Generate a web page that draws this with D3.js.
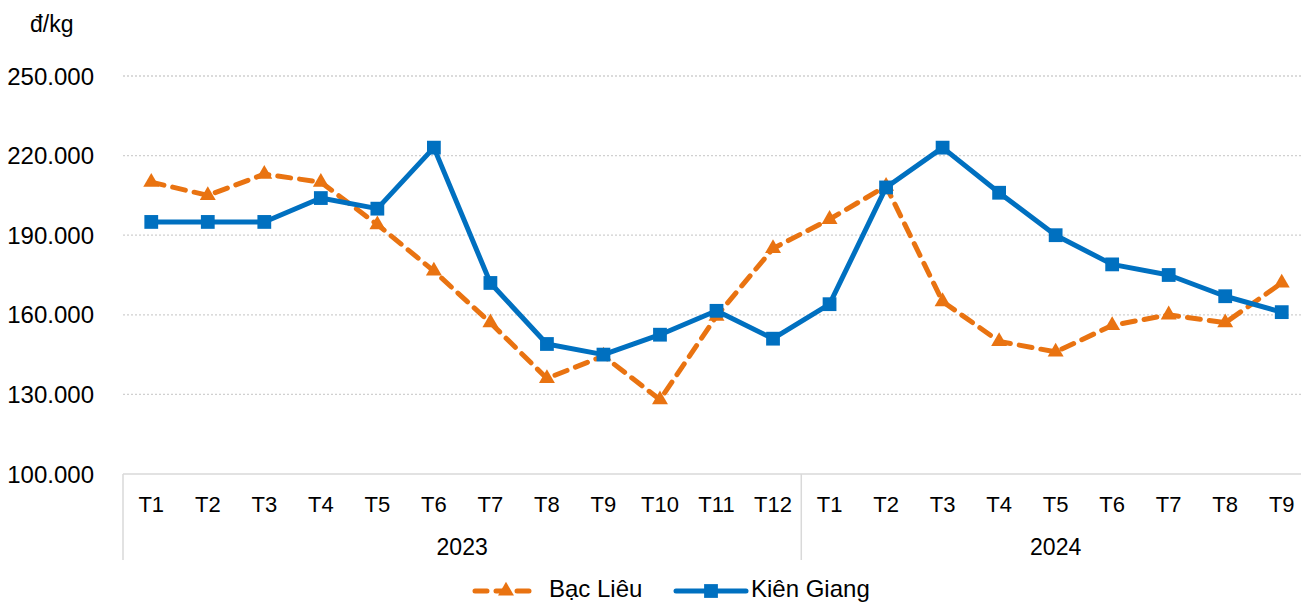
<!DOCTYPE html>
<html>
<head>
<meta charset="utf-8">
<script src="https://cdn.jsdelivr.net/npm/d3@7/dist/d3.min.js"></script>
<style>
  html, body { margin: 0; padding: 0; background: #fff; overflow: hidden; }
  svg { display: block; font-family: Arial, "Liberation Sans", sans-serif; }
</style>
</head>
<body>
<svg id="chart" width="1301" height="603"></svg>
<script>
// Monthly price data (đ/kg)
const months = ["T1","T2","T3","T4","T5","T6","T7","T8","T9","T10","T11","T12",
                "T1","T2","T3","T4","T5","T6","T7","T8","T9"];
const years = [{ label: "2023", start: 0, end: 11 }, { label: "2024", start: 12, end: 20 }];
const bacLieu = [210000, 205000, 213000, 210000, 194000, 176500, 157000, 136000, 144500, 128000, 159500, 185000,
                 196000, 208500, 165000, 150000, 146000, 156000, 160000, 157000, 172000];
const kienGiang = [195000, 195000, 195000, 204000, 200000, 223000, 172000, 149000, 145000, 152500, 161500, 151000,
                   164000, 208000, 223000, 206000, 190000, 179000, 175000, 167000, 161000];
const yTicks = [100000, 130000, 160000, 190000, 220000, 250000];

const svg = d3.select("#chart");
const plotL = 123, plotR = 1310, plotT = 76, plotB = 474;

const x = d3.scaleBand().domain(d3.range(months.length)).range([plotL, plotR]).padding(0);
const y = d3.scaleLinear().domain([100000, 250000]).range([plotB, plotT]);
const cx = i => x(i) + x.bandwidth() / 2;
const fmt = v => d3.format(",")(v).replace(/,/g, ".");

// gridlines
svg.append("g").selectAll("line").data(yTicks.slice(1)).join("line")
  .attr("x1", plotL).attr("x2", 1301)
  .attr("y1", d => y(d)).attr("y2", d => y(d))
  .attr("stroke", "#d0d0d0").attr("stroke-width", 1.3).attr("stroke-dasharray", "2,2");

// y-axis labels
svg.append("g").selectAll("text").data(yTicks).join("text")
  .attr("x", 94).attr("y", d => y(d) + 8.5)
  .attr("text-anchor", "end").attr("font-size", 24).attr("fill", "#000")
  .text(fmt);

svg.append("text").attr("x", 30).attr("y", 32).attr("font-size", 23).text("đ/kg");

// category axis
svg.append("line").attr("x1", plotL).attr("x2", 1301).attr("y1", plotB).attr("y2", plotB)
  .attr("stroke", "#d9d9d9").attr("stroke-width", 1.5);
const seps = [plotL, x(12)];
svg.append("g").selectAll("line").data(seps).join("line")
  .attr("x1", d => d).attr("x2", d => d).attr("y1", plotB).attr("y2", 560)
  .attr("stroke", "#d9d9d9").attr("stroke-width", 1.5);

svg.append("g").selectAll("text").data(months).join("text")
  .attr("x", (d, i) => cx(i)).attr("y", 512)
  .attr("text-anchor", "middle").attr("font-size", 22).text(d => d);

svg.append("g").selectAll("text").data(years).join("text")
  .attr("x", d => (x(d.start) + x(d.end) + x.bandwidth()) / 2)
  .attr("y", 555).attr("text-anchor", "middle").attr("font-size", 23).text(d => d.label);

const line = d3.line().x((d, i) => cx(i)).y(d => y(d));
const orange = "#E97311", blue = "#0070C0";
const tri = d3.symbol().type(d3.symbolTriangle).size(110);
const sq = d3.symbol().type(d3.symbolSquare).size(190);

// Bạc Liêu
svg.append("path").datum(bacLieu).attr("d", line).attr("fill", "none")
  .attr("stroke", orange).attr("stroke-width", 5).attr("stroke-dasharray", "13,9")
  .attr("stroke-linecap", "round");
svg.append("g").selectAll("path").data(bacLieu).join("path")
  .attr("d", tri).attr("transform", (d, i) => `translate(${cx(i)},${y(d)})`).attr("fill", orange);

// Kiên Giang
svg.append("path").datum(kienGiang).attr("d", line).attr("fill", "none")
  .attr("stroke", blue).attr("stroke-width", 5).attr("stroke-linejoin", "round");
svg.append("g").selectAll("path").data(kienGiang).join("path")
  .attr("d", sq).attr("transform", (d, i) => `translate(${cx(i)},${y(d)})`).attr("fill", blue);

// legend
const ly = 591;
const lg = svg.append("g");
lg.append("line").attr("x1", 475).attr("x2", 535).attr("y1", ly).attr("y2", ly)
  .attr("stroke", orange).attr("stroke-width", 5).attr("stroke-dasharray", "12,9").attr("stroke-linecap", "round");
lg.append("path").attr("d", tri).attr("transform", `translate(506,${ly})`).attr("fill", orange);
lg.append("text").attr("x", 549).attr("y", 597).attr("font-size", 24).text("Bạc Liêu");
lg.append("line").attr("x1", 676).attr("x2", 746).attr("y1", ly).attr("y2", ly)
  .attr("stroke", blue).attr("stroke-width", 5).attr("stroke-linecap", "round");
lg.append("path").attr("d", sq).attr("transform", `translate(711,${ly})`).attr("fill", blue);
lg.append("text").attr("x", 751).attr("y", 597).attr("font-size", 24).text("Kiên Giang");
</script>
</body>
</html>
